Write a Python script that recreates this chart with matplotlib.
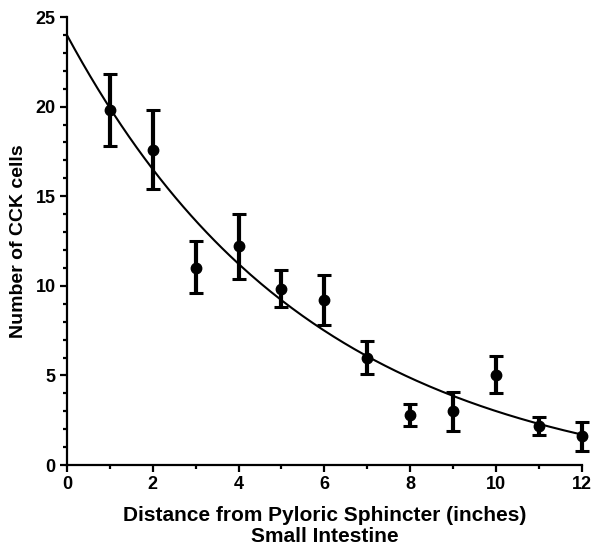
import numpy as np
import matplotlib.pyplot as plt
from matplotlib.ticker import MultipleLocator

plt.rcParams['font.family'] = ['Liberation Sans', 'DejaVu Sans']
plt.rcParams['font.weight'] = 'bold'

# Measured values (distance in inches, mean count, error bar low/high)
distance = [1, 2, 3, 4, 5, 6, 7, 8, 9, 10, 11, 12]
cck_mean = [19.8, 17.6, 11.0, 12.2, 9.8, 9.2, 6.0, 2.8, 3.0, 5.0, 2.2, 1.6]
err_low = [17.8, 15.4, 9.6, 10.4, 8.8, 7.8, 5.1, 2.2, 1.9, 4.0, 1.7, 0.8]
err_high = [21.8, 19.8, 12.5, 14.0, 10.9, 10.6, 6.9, 3.4, 4.1, 6.1, 2.7, 2.4]

# One-phase exponential decay fit parameters
fit_span = 25.44
fit_plateau = -1.44
fit_k = 0.1744

fig = plt.figure(figsize=(5.92, 5.5), dpi=100)
ax = fig.add_axes([0.113, 0.1545, 0.870, 0.8145])

mean = np.array(cck_mean)
yerr = [mean - np.array(err_low), np.array(err_high) - mean]
ax.errorbar(distance, mean, yerr=yerr, fmt='o', color='black', ms=7.5,
            elinewidth=3, capsize=4.8, capthick=2.2, zorder=3, clip_on=False)

xs = np.linspace(0, 12, 200)
ax.plot(xs, fit_span * np.exp(-fit_k * xs) + fit_plateau, color='black', lw=1.5)

ax.set_xlim(0, 12)
ax.set_ylim(0, 25)
ax.xaxis.set_major_locator(MultipleLocator(2))
ax.xaxis.set_minor_locator(MultipleLocator(1))
ax.yaxis.set_major_locator(MultipleLocator(5))
ax.yaxis.set_minor_locator(MultipleLocator(1))
for s in ['top', 'right']:
    ax.spines[s].set_visible(False)
for s in ['left', 'bottom']:
    ax.spines[s].set_linewidth(1.6)
ax.tick_params(which='major', length=5, width=1.6, labelsize=13, pad=3)
ax.tick_params(which='minor', length=3, width=1.6)
for lab in ax.get_xticklabels() + ax.get_yticklabels():
    lab.set_fontweight('bold')

ax.set_xlabel('Distance from Pyloric Sphincter (inches)\nSmall Intestine',
              fontsize=15, fontweight='bold', linespacing=1.15, labelpad=9)
ax.set_ylabel('Number of CCK cells', fontsize=14, fontweight='bold', labelpad=6)

fig.savefig('out.png', dpi=100)
